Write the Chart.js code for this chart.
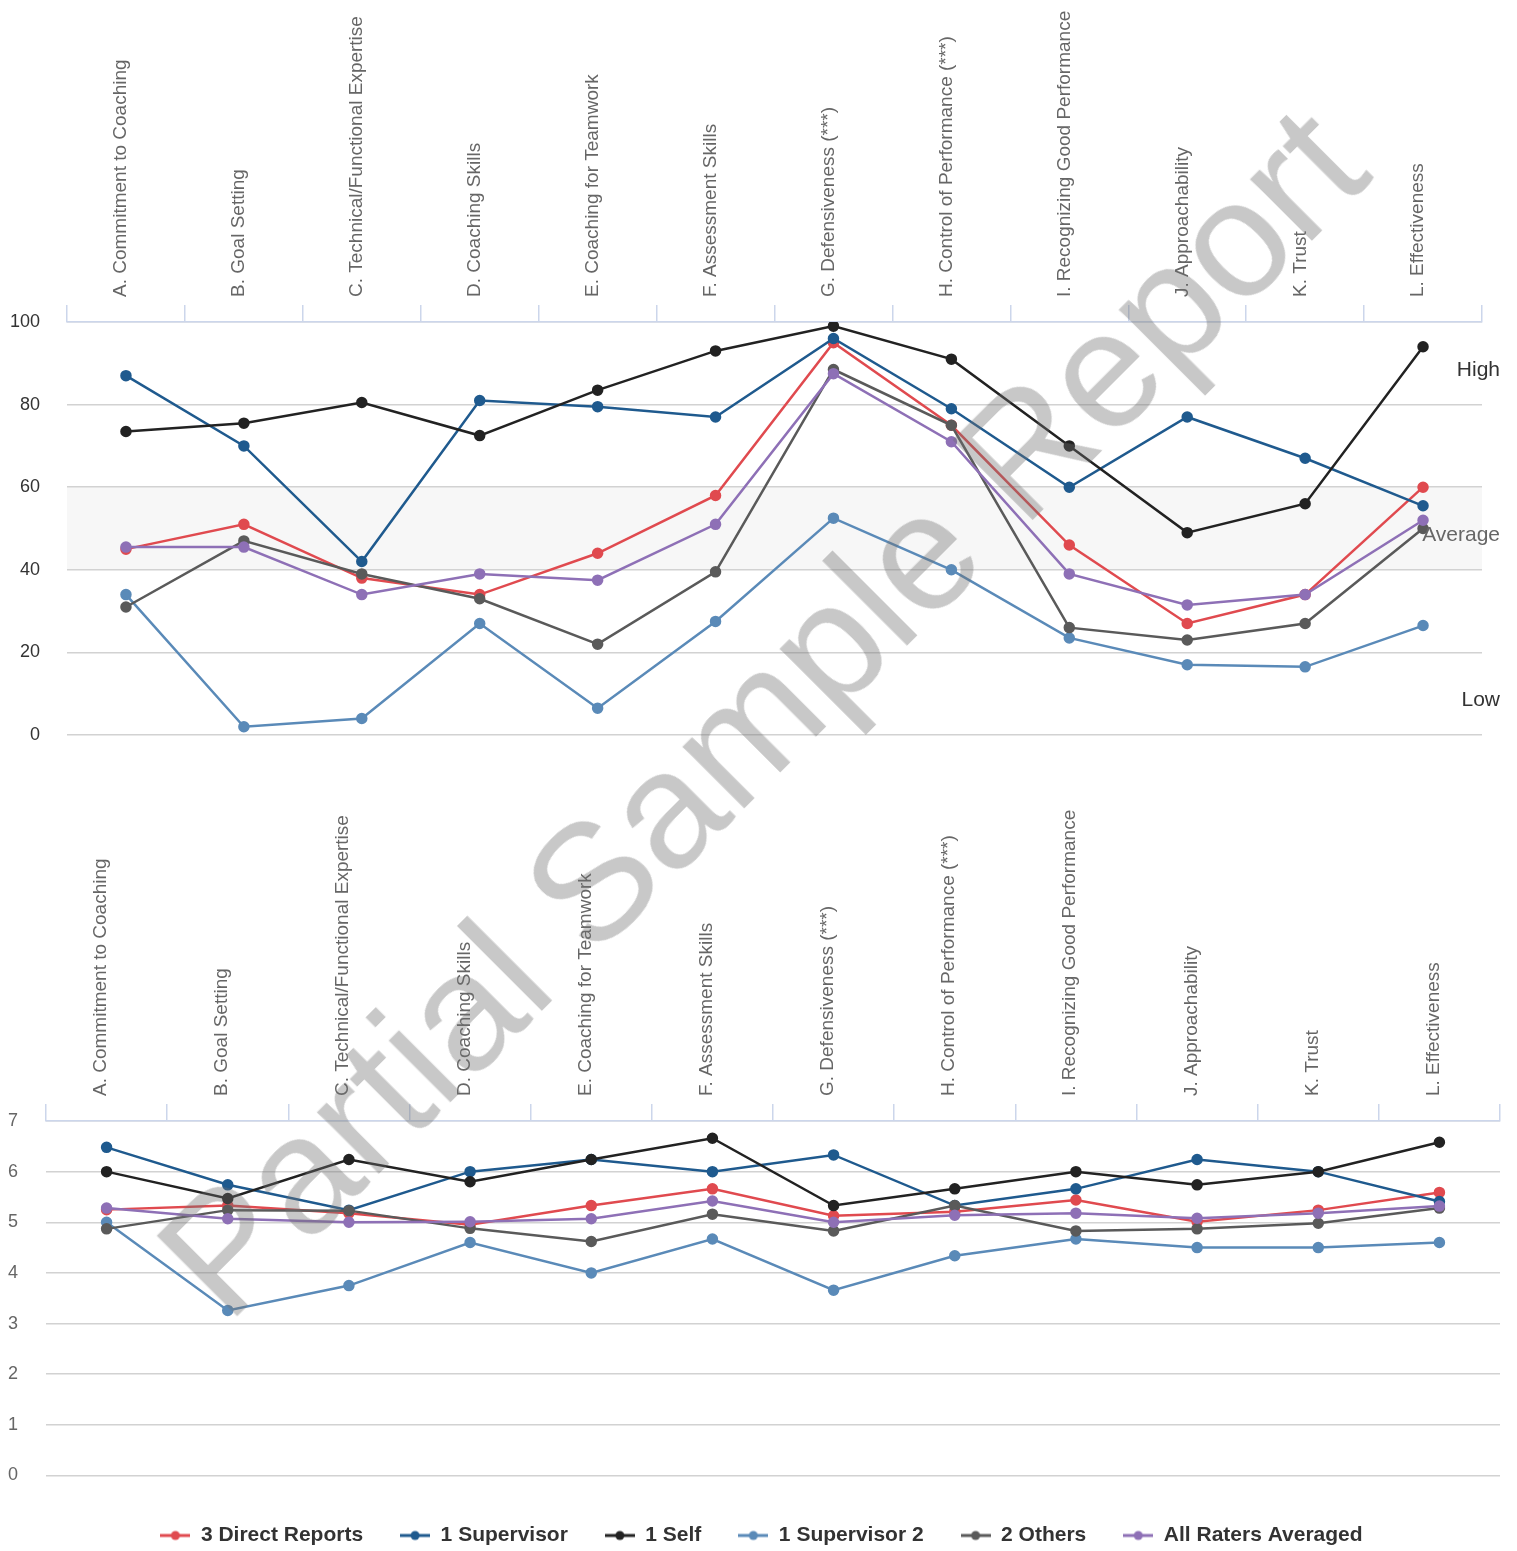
<!DOCTYPE html>
<html>
<head>
<meta charset="utf-8">
<script src="https://cdn.jsdelivr.net/npm/chart.js@4/dist/chart.umd.min.js"></script>
<style>
  html, body { margin: 0; padding: 0; background: #fff; overflow: hidden; width: 1517px; height: 1551px; }
  #wrap { position: relative; width: 1517px; height: 1551px; overflow: hidden; }
  #pctChart { position: absolute; left: 0; top: 0; }
  #scoreChart { position: absolute; left: 0; top: 780px; }
  #stamp {
    position: absolute; left: 761px; top: 711px;
    transform: translate(-50%, -50%) rotate(-45deg);
    font: 166px "Liberation Sans", Arial, sans-serif; line-height: 1;
    white-space: nowrap; color: rgba(110, 110, 110, 0.38);
    pointer-events: none;
  }
</style>
</head>
<body>
<div id="wrap">
  <canvas id="pctChart" width="1517" height="780"></canvas>
  <canvas id="scoreChart" width="1523" height="776"></canvas>
  <div id="stamp">Partial Sample Report</div>
</div>
<script>
// Competency categories (shared by both panels)
const categories = [
  'A. Commitment to Coaching',
  'B. Goal Setting',
  'C. Technical/Functional Expertise',
  'D. Coaching Skills',
  'E. Coaching for Teamwork',
  'F. Assessment Skills',
  'G. Defensiveness (***)',
  'H. Control of Performance (***)',
  'I. Recognizing Good Performance',
  'J. Approachability',
  'K. Trust',
  'L. Effectiveness'
];

// Rater groups
const raterGroups = ['3 Direct Reports', '1 Supervisor', '1 Self', '1 Supervisor 2', '2 Others', 'All Raters Averaged'];
const groupColors = ['#e04a4f', '#1f5a8e', '#222222', '#5a8ab8', '#5a5a5a', '#8e70b6'];

// Percentile scores (top panel)
const directReportsPct = [45, 51, 38, 34, 44, 58, 95, 75, 46, 27, 34, 60];
const supervisorPct    = [87, 70, 42, 81, 79.5, 77, 96, 79, 60, 77, 67, 55.5];
const selfPct          = [73.5, 75.5, 80.5, 72.5, 83.5, 93, 99, 91, 70, 49, 56, 94];
const supervisor2Pct   = [34, 2, 4, 27, 6.5, 27.5, 52.5, 40, 23.5, 17, 16.5, 26.5];
const othersPct        = [31, 47, 39, 33, 22, 39.5, 88.5, 75, 26, 23, 27, 50];
const allRatersPct     = [45.5, 45.5, 34, 39, 37.5, 51, 87.5, 71, 39, 31.5, 34, 52];

// Mean ratings on the 7-point scale (bottom panel)
const directReportsScore = [5.25, 5.33, 5.18, 4.95, 5.33, 5.66, 5.13, 5.21, 5.44, 5.01, 5.24, 5.59];
const supervisorScore    = [6.48, 5.74, 5.24, 6.0, 6.24, 6.0, 6.33, 5.33, 5.66, 6.24, 6.0, 5.41];
const selfScore          = [6.0, 5.47, 6.24, 5.8, 6.24, 6.66, 5.33, 5.66, 6.0, 5.74, 6.0, 6.58];
const supervisor2Score   = [5.0, 3.26, 3.75, 4.6, 4.0, 4.67, 3.66, 4.34, 4.67, 4.5, 4.5, 4.6];
const othersScore        = [4.87, 5.24, 5.23, 4.88, 4.62, 5.16, 4.83, 5.33, 4.83, 4.87, 4.98, 5.28];
const allRatersScore     = [5.28, 5.07, 5.0, 5.01, 5.07, 5.42, 5.0, 5.14, 5.18, 5.08, 5.18, 5.32];

// Axis ticks and norm zones
const pctTicks = [0, 20, 40, 60, 80, 100];
const scoreTicks = [0, 1, 2, 3, 4, 5, 6, 7];
const averageBand = [40, 60];
const zoneLabels = ['High', 'Average', 'Low'];
const zoneValues = [90, 50, 10];
const zoneColors = ['#333333', '#666666', '#333333'];

Chart.defaults.font.family = '"Liberation Sans", Arial, sans-serif';
Chart.defaults.animation = false;

function buildDatasets(seriesList) {
  const n = seriesList.length;
  return seriesList.map((values, i) => ({
    label: raterGroups[i],
    data: values,
    xAxisID: 'x',
    yAxisID: 'y',
    borderColor: groupColors[i],
    backgroundColor: groupColors[i],
    pointBackgroundColor: groupColors[i],
    pointBorderColor: groupColors[i],
    borderWidth: 2.5,
    pointRadius: 4.5,
    pointHoverRadius: 4.5,
    tension: 0,
    fill: false,
    order: n - i
  }));
}

function categoryAxis(labelOffset, height) {
  return {
    type: 'category',
    position: 'top',
    offset: true,
    afterFit(scale) { scale.height = height; },
    grid: { offset: true, drawOnChartArea: false, color: '#ccd6eb', lineWidth: 1.5, tickLength: 17 },
    border: { color: '#ccd6eb', width: 1.5 },
    ticks: {
      autoSkip: false, minRotation: 90, maxRotation: 90, padding: 8, labelOffset: labelOffset,
      color: '#666666', font: { size: 19 }
    }
  };
}

function valueAxis(ticks, width, color, padding) {
  return {
    type: 'linear',
    position: 'left',
    min: ticks[0],
    max: ticks[ticks.length - 1],
    afterBuildTicks(scale) { scale.ticks = ticks.map(v => ({ value: v })); },
    afterFit(scale) { scale.width = width; },
    grid: { color: '#d2d2d2', lineWidth: 1.5, drawTicks: false },
    border: { display: false },
    ticks: { padding: padding, color: color, font: { size: 18 } }
  };
}

// Empty axis used only to reserve space at an edge of the plot
function spacerAxis(position, size) {
  const vertical = position === 'left' || position === 'right';
  return {
    type: 'linear', position: position, axis: vertical ? 'y' : 'x', display: true,
    min: 0, max: 1,
    grid: { display: false, drawTicks: false }, border: { display: false },
    ticks: { display: false },
    afterFit(scale) {
      if (vertical) scale.width = size;
      else scale.height = size;
    }
  };
}

// Shaded "Average" norm band
const bandPlugin = {
  id: 'averageBand',
  beforeDraw(chart) {
    const { ctx, chartArea, scales } = chart;
    const y = scales.y;
    const top = y.getPixelForValue(averageBand[1]);
    const bottom = y.getPixelForValue(averageBand[0]);
    ctx.save();
    ctx.fillStyle = '#f7f7f7';
    ctx.fillRect(chartArea.left, top, chartArea.right - chartArea.left, bottom - top);
    ctx.restore();
  }
};

// High / Average / Low captions at the right edge
const zonePlugin = {
  id: 'zoneCaptions',
  afterDatasetsDraw(chart) {
    const { ctx, chartArea, scales } = chart;
    ctx.save();
    ctx.font = '21px "Liberation Sans", Arial, sans-serif';
    ctx.textAlign = 'right';
    ctx.textBaseline = 'middle';
    zoneLabels.forEach((text, i) => {
      ctx.fillStyle = zoneColors[i];
      ctx.fillText(text, chartArea.right + 18, scales.y.getPixelForValue(zoneValues[i]) + 7);
    });
    ctx.restore();
  }
};

new Chart(document.getElementById('pctChart'), {
  type: 'line',
  data: {
    labels: categories,
    datasets: buildDatasets([directReportsPct, supervisorPct, selfPct, supervisor2Pct, othersPct, allRatersPct])
  },
  options: {
    responsive: false,
    layout: { padding: { top: 0, right: 35, bottom: 45, left: 0 } },
    plugins: { legend: { display: false }, tooltip: { enabled: false } },
    scales: {
      x: categoryAxis(18, 322),
      y: valueAxis(pctTicks, 67, '#333333', 27)
    }
  },
  plugins: [bandPlugin, zonePlugin]
});

// Legend marker: short line with a dot
function legendMarker(color) {
  const c = document.createElement('canvas');
  c.width = 30; c.height = 12;
  const g = c.getContext('2d');
  g.strokeStyle = color; g.lineWidth = 3;
  g.beginPath(); g.moveTo(0, 6); g.lineTo(30, 6); g.stroke();
  g.fillStyle = color;
  g.beginPath(); g.arc(15, 6, 4.5, 0, Math.PI * 2); g.fill();
  return c;
}

new Chart(document.getElementById('scoreChart'), {
  type: 'line',
  data: {
    labels: categories,
    datasets: buildDatasets([directReportsScore, supervisorScore, selfScore, supervisor2Score, othersScore, allRatersScore])
  },
  options: {
    responsive: false,
    layout: { padding: 0 },
    plugins: {
      tooltip: { enabled: false },
      legend: {
        position: 'bottom',
        labels: {
          usePointStyle: true,
          pointStyleWidth: 30,
          padding: 37,
          color: '#333333',
          font: { size: 21, weight: 'bold' },
          generateLabels(chart) {
            return chart.data.datasets.map((ds, i) => ({
              text: ds.label,
              datasetIndex: i,
              pointStyle: legendMarker(ds.borderColor),
              fillStyle: ds.borderColor,
              strokeStyle: ds.borderColor,
              fontColor: '#333333',
              lineWidth: 0,
              hidden: !chart.isDatasetVisible(i)
            }));
          }
        }
      }
    },
    scales: {
      x: categoryAxis(17, 341),
      y: valueAxis(scoreTicks, 46, '#666666', 28),
      gapBottom: spacerAxis('bottom', 12.5),
      gapRight: spacerAxis('right', 23)
    }
  }
});
</script>
</body>
</html>
